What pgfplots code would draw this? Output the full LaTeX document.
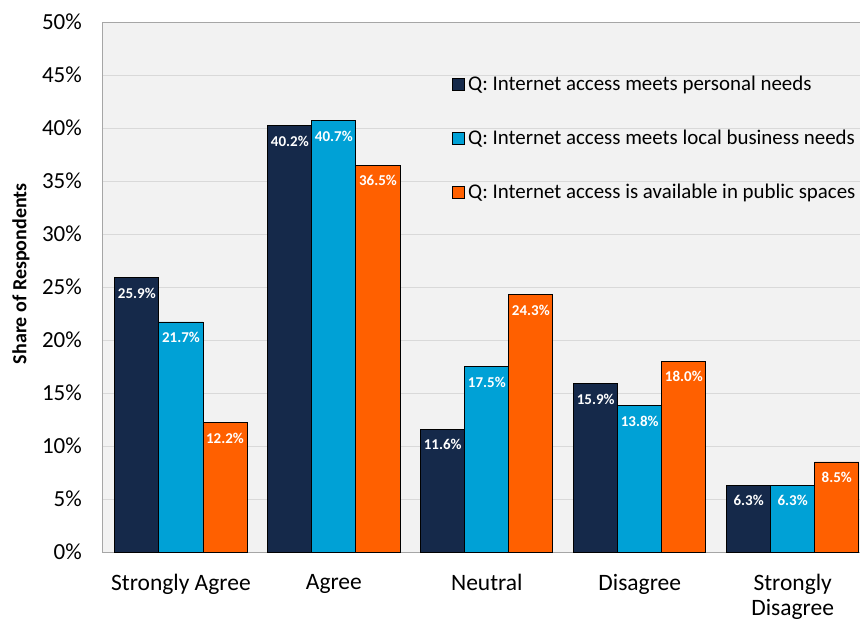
\documentclass[border=0pt]{standalone}
\usepackage{fontspec}
\setmainfont{Carlito}
\usepackage{pgfplots}
\pgfplotsset{compat=1.18}
\definecolor{cnavy}{HTML}{15294A}
\definecolor{ccyan}{HTML}{00A1D6}
\definecolor{corange}{HTML}{FF6000}
\definecolor{bgg}{HTML}{F2F2F2}
\definecolor{gridg}{HTML}{D9D9D9}
\definecolor{axisg}{HTML}{A6A6A6}
\begin{document}
\begin{tikzpicture}
\begin{axis}[
  at={(0,0)}, anchor=south west,
  scale only axis, width=758bp, height=530bp,
  xmin=-0.516, xmax=4.44, ymin=0, ymax=50,
  ybar=0pt, bar width=0.288,
  axis background/.style={fill=bgg},
  axis line style={axisg, line width=1pt},
  ytick={0,5,...,50}, ymajorgrids, grid style={gridg, line width=1pt},
  major tick length=0pt,
  xtick={0,1,2,3,4},
  xticklabels={Strongly Agree, Agree, Neutral, Disagree, {Strongly\\Disagree}},
  /pgf/number format/assume math mode=true,
  yticklabel={\pgfmathprintnumber{\tick}\%},
  yticklabel style={font=\fontsize{23bp}{27bp}\selectfont, inner sep=0pt, xshift=-20bp, anchor=east},
  xticklabel style={font=\fontsize{23.5bp}{25bp}\selectfont, inner sep=0pt, align=center, anchor=north, yshift=-22bp},
  ylabel={Share of Respondents},
  ylabel style={font=\fontsize{20bp}{23bp}\selectfont\bfseries, at={(axis description cs:-0.107,0.525)}, anchor=center},
  nodes near coords={\pgfmathprintnumber[fixed,fixed zerofill,precision=1]{\pgfplotspointmeta}\%},
  every node near coord/.append style={font=\fontsize{15bp}{18bp}\selectfont\bfseries, color=white, anchor=north, inner sep=0pt, yshift=-10bp},
  legend style={draw=none, fill=none, at={(0.457,0.904)}, anchor=north west,
    font=\fontsize{20.9bp}{24bp}\selectfont,
    nodes={inner sep=0pt, text height=15bp, text depth=4bp},
    row sep=35bp,
    /tikz/every odd column/.append style={column sep=4bp}},
  legend cell align=left,
  legend image code/.code={\draw[#1, draw=black, line width=0.6pt] (0bp,-6bp) rectangle (12bp,6bp);},
]
\addplot[fill=cnavy, draw=black, line width=0.8pt] coordinates {(0,25.9) (1,40.2) (2,11.6) (3,15.9) (4,6.3)};
\addplot[fill=ccyan, draw=black, line width=0.8pt] coordinates {(0,21.7) (1,40.7) (2,17.5) (3,13.8) (4,6.3)};
\addplot[fill=corange, draw=black, line width=0.8pt] coordinates {(0,12.2) (1,36.5) (2,24.3) (3,18.0) (4,8.5)};
\legend{Q: Internet access meets personal needs, Q: Internet access meets local business needs, Q: Internet access is available in public spaces}
\end{axis}
\pgfresetboundingbox
\path[use as bounding box] (-102bp,-68bp) rectangle (758bp,552bp);
\end{tikzpicture}
\end{document}
